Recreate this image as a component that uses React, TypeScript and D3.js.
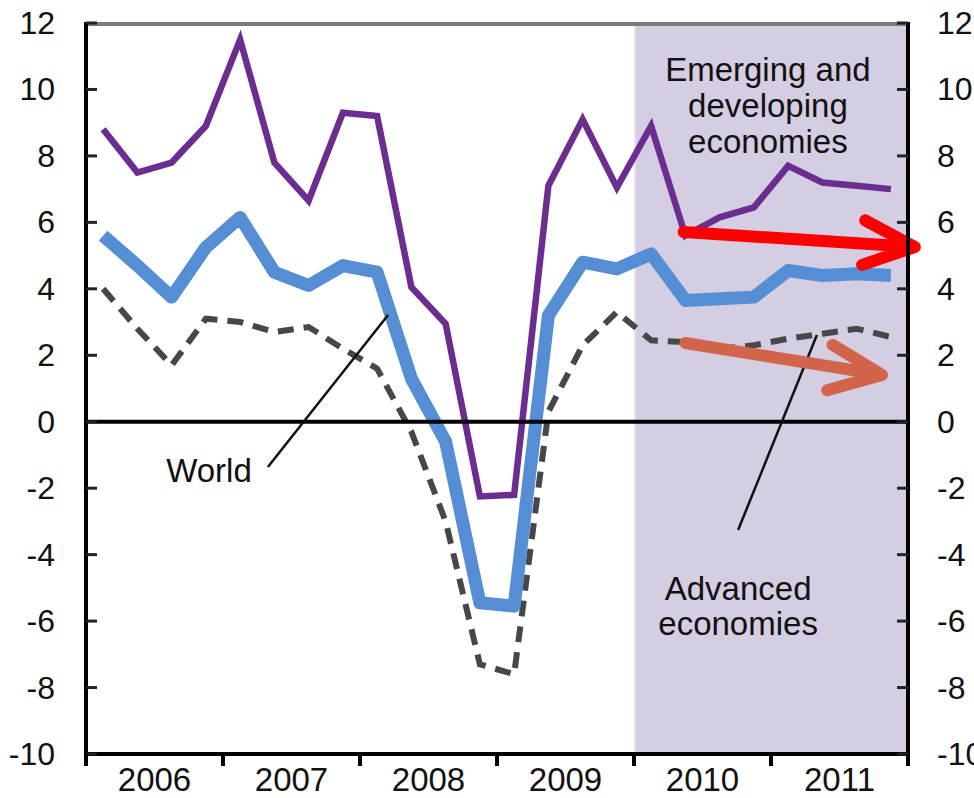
import React from "react";
import * as d3 from "d3";

const years = ["2006", "2007", "2008", "2009", "2010", "2011"];
const yTicks = [-10, -8, -6, -4, -2, 0, 2, 4, 6, 8, 10, 12];
// quarterly real GDP growth (annualised), 2006Q1 .. 2011Q4
const emerging = [8.8, 7.5, 7.8, 8.9, 11.5, 7.8, 6.65, 9.3, 9.2, 4.05, 2.95, -2.25, -2.2, 7.1, 9.1, 7.05, 8.9, 5.6, 6.15, 6.45, 7.7, 7.2, 7.1, 7.0];
const world = [5.6, 4.7, 3.75, 5.25, 6.15, 4.5, 4.1, 4.7, 4.5, 1.3, -0.6, -5.45, -5.55, 3.2, 4.8, 4.6, 5.05, 3.65, 3.7, 3.75, 4.55, 4.4, 4.45, 4.4];
const advanced = [4.0, 2.8, 1.7, 3.1, 3.0, 2.7, 2.85, 2.2, 1.6, -0.3, -3.0, -7.3, -7.6, 0.3, 2.3, 3.3, 2.45, 2.4, 2.2, 2.3, 2.5, 2.65, 2.8, 2.55];
const shadeFromQuarter = 16; // projections start 2010

// annotation geometry in data units [quarter, value]
const redArrow = { from: [17.45, 5.71], tip: [24.2, 5.26], barbA: [22.75, 6.06], barbB: [22.66, 4.72] };
const orangeArrow = { from: [17.5, 2.37], tip: [23.24, 1.41], barbA: [21.8, 2.31], barbB: [21.64, 0.95] };
const worldLeader = [[5.31, -1.36], [8.82, 3.21]];
const advLeader = [[19.04, -3.26], [21.34, 2.61]];

const W = 974;
const H = 798;
const FONT = "'Liberation Sans', Arial, sans-serif";

export default function App() {
  const x = d3.scaleLinear().domain([0, 24]).range([86, 908]);
  const y = d3.scaleLinear().domain([-10, 12]).range([754, 23]);
  const line = d3
    .line<number>()
    .x((_, i) => x(i + 0.5))
    .y((d) => y(d));
  const P = (p: number[]) => [x(p[0]), y(p[1])];
  const arrowPath = (a: any) => {
    const f = P(a.from), t = P(a.tip), b1 = P(a.barbA), b2 = P(a.barbB);
    return `M${f[0]},${f[1]}L${t[0]},${t[1]}M${b1[0]},${b1[1]}L${t[0]},${t[1]}L${b2[0]},${b2[1]}`;
  };
  return (
    <svg width={W} height={H} style={{ position: "absolute", left: 0, top: 0, background: "#fff" }} fontFamily={FONT}>
      <rect x={x(shadeFromQuarter)} y={y(12)} width={x(24) - x(shadeFromQuarter)} height={y(-10) - y(12)} fill="#d5cde1" />
      <line x1={x(shadeFromQuarter) + 1} x2={x(shadeFromQuarter) + 1} y1={y(12)} y2={y(-10)} stroke="#e8e4ee" strokeWidth={2} />
      {/* top border */}
      <line x1={x(0)} x2={x(24)} y1={y(12) + 1} y2={y(12) + 1} stroke="#7a7a7a" strokeWidth={4} />
      {/* series */}
      <path d={line(advanced) || ""} fill="none" stroke="#474747" strokeWidth={6} strokeDasharray="16 10" />
      <path d={line(world) || ""} fill="none" stroke="#558ed5" strokeWidth={13} strokeLinejoin="round" />
      <path d={line(emerging) || ""} fill="none" stroke="#6b2d8f" strokeWidth={6.5} />
      {/* zero line */}
      <line x1={x(0)} x2={x(24)} y1={y(0)} y2={y(0)} stroke="#000" strokeWidth={4} />
      {/* leaders */}
      {[worldLeader, advLeader].map((l, i) => (
        <line key={i} x1={P(l[0])[0]} y1={P(l[0])[1]} x2={P(l[1])[0]} y2={P(l[1])[1]} stroke="#111" strokeWidth={2.5} />
      ))}
      {/* arrows */}
      <path d={arrowPath(redArrow)} fill="none" stroke="#ff0000" strokeWidth={12} strokeLinecap="round" strokeLinejoin="round" />
      <path d={arrowPath(orangeArrow)} fill="none" stroke="#d2644b" strokeWidth={12} strokeLinecap="round" strokeLinejoin="round" />
      {/* axes */}
      <line x1={x(0)} x2={x(0)} y1={y(12) - 1} y2={y(-10) + 11} stroke="#000" strokeWidth={4} />
      <line x1={x(24)} x2={x(24)} y1={y(12) - 1} y2={y(-10) + 11} stroke="#000" strokeWidth={4} />
      <line x1={x(0) - 2} x2={x(24) + 2} y1={y(-10)} y2={y(-10)} stroke="#000" strokeWidth={4} />
      {yTicks.map((t) => (
        <g key={t}>
          <line x1={x(0)} x2={x(0) + 11} y1={y(t)} y2={y(t)} stroke="#222" strokeWidth={3} />
          <line x1={x(24) - 11} x2={x(24)} y1={y(t)} y2={y(t)} stroke="#222" strokeWidth={3} />
          <text x={55} y={y(t)} textAnchor="end" dominantBaseline="central" fontSize={32} fill="#111">{String(t)}</text>
          <text x={937} y={y(t)} textAnchor="start" dominantBaseline="central" fontSize={32} fill="#111">{String(t)}</text>
        </g>
      ))}
      {d3.range(0, 25, 4).map((q) => (
        <line key={q} x1={x(q)} x2={x(q)} y1={y(-10)} y2={y(-10) + 12} stroke="#000" strokeWidth={4} />
      ))}
      {years.map((yr, i) => (
        <text key={yr} x={x(i * 4 + 2)} y={791} textAnchor="middle" fontSize={33} fill="#111">{yr}</text>
      ))}
      {/* labels */}
      {["Emerging and", "developing", "economies"].map((s, i) => (
        <text key={s} x={x(19.91)} y={y(10.25) + i * 36} textAnchor="middle" fontSize={33} fill="#111">{s}</text>
      ))}
      {["Advanced", "economies"].map((s, i) => (
        <text key={s} x={x(19.04)} y={y(-5.37) + i * 35} textAnchor="middle" fontSize={33} fill="#111">{s}</text>
      ))}
      <text x={x(3.59)} y={y(-1.81)} textAnchor="middle" fontSize={33} fill="#111">World</text>
    </svg>
  );
}
